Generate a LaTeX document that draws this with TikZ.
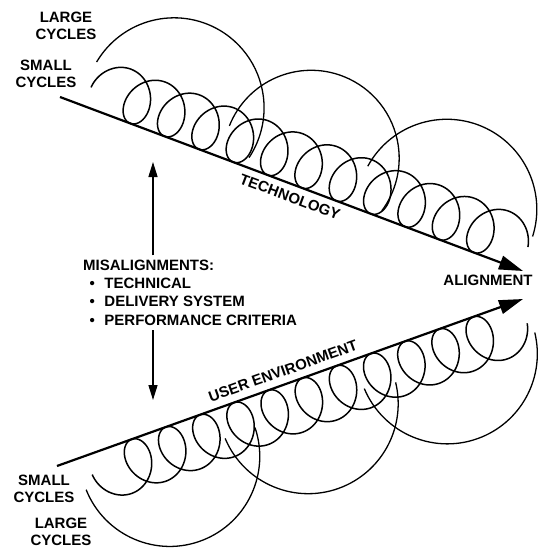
\documentclass[tikz,border=0pt]{standalone}
\usepackage{fontspec}
\setmainfont{Liberation Sans}
\usetikzlibrary{arrows.meta}
\begin{document}
\begin{tikzpicture}[x=1pt,y=1pt,
  lbl/.style={font=\fontsize{15}{17.5}\selectfont\bfseries, inner sep=0pt},
  mainline/.style={line width=2.2pt, -{Triangle[length=24pt,width=14pt]}},
  coil/.style={line width=1.5pt},
  bigarc/.style={line width=1.3pt},
  vert/.style={line width=1.4pt, -{Triangle[length=15pt,width=9pt]}}]
\useasboundingbox (0,0) rectangle (540,-548);

% main lines
\coordinate (ts) at (60,-97);
\coordinate (te) at (523,-271);
\coordinate (bs) at (57,-466);
\coordinate (be) at (523,-299);
\draw[mainline] (ts) -- (te);
\draw[mainline] (bs) -- (be);

% top: technology cycles
\begin{scope}[shift={(ts)}, rotate=-20.6]
  \draw[coil] plot[domain=1.35:73.9, samples=1500, smooth, variable=\t]
    ({38.3+5.841*\t-21*sin(\t r)}, {25.5*(1-cos(\t r))});
  \draw[bigarc] (110.6,30) ++(170:90pt) arc[start angle=170, end angle=-13, radius=90pt];
  \draw[bigarc] (256.7,31) ++(179:88pt) arc[start angle=179, end angle=-16, radius=88pt];
  \draw[bigarc] (401.6,31) ++(172:90pt) arc[start angle=172, end angle=3, radius=90pt];
\end{scope}

% bottom: user environment cycles
\begin{scope}[shift={(bs)}, rotate=19.7]
  \draw[coil] plot[domain=1.35:73.9, samples=1500, smooth, variable=\t]
    ({43.0+5.777*\t-21*sin(\t r)}, {-25.5*(1-cos(\t r))});
  \draw[bigarc] (109.4,-29) ++(-178:90pt) arc[start angle=-178, end angle=-1, radius=90pt];
  \draw[bigarc] (257.5,-26) ++(-177:90pt) arc[start angle=-177, end angle=-6, radius=90pt];
  \draw[bigarc] (405.3,-26) ++(-177:90pt) arc[start angle=-177, end angle=-6, radius=90pt];
\end{scope}

% labels
\node[lbl, anchor=base] (lgA) at (66,-22.5) {LARGE};
\node[lbl, anchor=base] (lgB) at (66,-40) {CYCLES};
\node[lbl, anchor=base] (smA) at (46,-70.5) {SMALL};
\node[lbl, anchor=base] (smB) at (46,-87.5) {CYCLES};
\node[lbl, anchor=base] (bsmA) at (44,-485) {SMALL};
\node[lbl, anchor=base] (bsmB) at (44,-502) {CYCLES};
\node[lbl, anchor=base] (blgA) at (61,-528.5) {LARGE};
\node[lbl, anchor=base] (blgB) at (61,-545) {CYCLES};
\node[lbl, anchor=base] (alig) at (488,-285) {ALIGNMENT};
\node[lbl, rotate=-20.6] (tech) at (290,-197) {TECHNOLOGY};
\node[lbl, rotate=19.7] (user) at (283,-371) {USER ENVIRONMENT};

\node[lbl, anchor=base west] (mis0) at (83,-270) {MISALIGNMENTS:};
\node[lbl, anchor=base west] (mis1) at (89.5,-288.3) {•\hspace{9.5pt}TECHNICAL};
\node[lbl, anchor=base west] (mis2) at (89.5,-306.6) {•\hspace{9.5pt}DELIVERY SYSTEM};
\node[lbl, anchor=base west] (mis3) at (89.5,-325) {•\hspace{9.5pt}PERFORMANCE CRITERIA};

\coordinate (upTip) at (153,-162);
\coordinate (dnTip) at (153,-400);
\draw[vert] ([yshift=4pt]upTip |- mis0.north) -- (upTip);
\draw[vert] ([yshift=-5pt]dnTip |- mis3.south) -- (dnTip);
\end{tikzpicture}
\end{document}
